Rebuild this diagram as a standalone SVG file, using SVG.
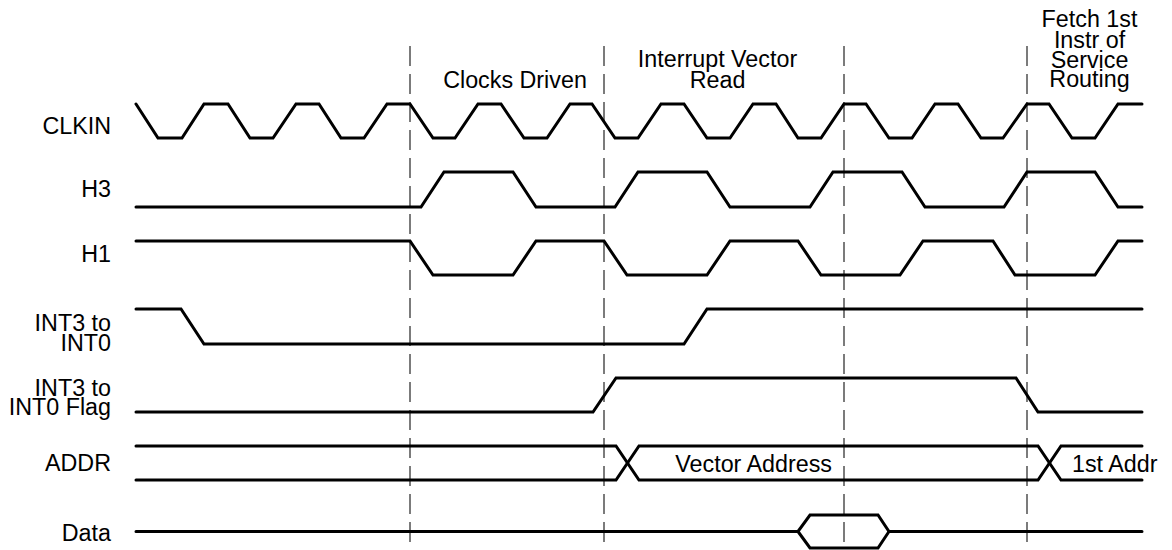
<svg xmlns="http://www.w3.org/2000/svg" width="1172" height="550" viewBox="0 0 1172 550">
<style>
.t{font-family:"Liberation Sans",Arial,Helvetica,sans-serif;font-size:23.3px;fill:#000}
.l{text-anchor:end}
.c{text-anchor:middle}
.w{fill:none;stroke:#000;stroke-width:3;stroke-linecap:round;stroke-linejoin:miter}
.d{fill:none;stroke:#444;stroke-width:1.4;stroke-dasharray:20 8}
</style>
<rect width="1172" height="550" fill="#fff"/>
<g id="markers">
<line class="d" x1="410" y1="46" x2="410" y2="549"/>
<line class="d" x1="604" y1="46" x2="604" y2="549"/>
<line class="d" x1="844" y1="46" x2="844" y2="549"/>
<line class="d" x1="1027" y1="46" x2="1027" y2="549"/>
</g>
<g id="phase-labels">
<text class="t c" x="515" y="88">Clocks Driven</text>
<text class="t c" x="717.5" y="67">Interrupt Vector</text>
<text class="t c" x="717.5" y="88">Read</text>
<text class="t c" x="1089.5" y="27">Fetch 1st</text>
<text class="t c" x="1089.5" y="47.5">Instr of</text>
<text class="t c" x="1089.5" y="67.5">Service</text>
<text class="t c" x="1089.5" y="87">Routing</text>
</g>
<g id="clkin">
<text class="t l" x="111" y="134">CLKIN</text>
<polyline class="w" points="136,104 158,138 182,138 204,104 228,104 250,138 273,138 296,104 319,104 341,138 364,138 387,104 410,104 433,138 455,138 478,104 501,104 524,138 547,138 570,104 592,104 615,138 638,138 661,104 684,104 707,138 730,138 753,104 776,104 798,138 821,138 844,104 866,104 889,138 912,138 935,104 958,104 981,138 1003,138 1027,104 1049,104 1072,138 1095,138 1118,104 1142,104"/>
</g>
<g id="h3">
<text class="t l" x="111" y="197">H3</text>
<polyline class="w" points="136,207 421,207 444,172 513,172 536,207 615,207 638,172 707,172 730,207 810,207 833,172 902,172 925,207 1004,207 1027,172 1095,172 1118,207 1142,207"/>
</g>
<g id="h1">
<text class="t l" x="111" y="262">H1</text>
<polyline class="w" points="136,241 410,241 433,275 513,275 536,241 604,241 627,275 707,275 730,241 798,241 821,275 900,275 923,241 993,241 1015,275 1095,275 1118,241 1142,241"/>
</g>
<g id="int">
<text class="t l" x="111" y="331">INT3 to</text>
<text class="t l" x="111" y="350.5">INT0</text>
<polyline class="w" points="136,309 181,309 204,344 684,344 707,309 1142,309"/>
</g>
<g id="int-flag">
<text class="t l" x="111" y="396">INT3 to</text>
<text class="t l" x="111" y="415">INT0 Flag</text>
<polyline class="w" points="136,412 593,412 616,378 1016,378 1038,412 1142,412"/>
</g>
<g id="addr">
<text class="t l" x="111" y="471">ADDR</text>
<polyline class="w" points="136,446 616,446 639,480 1038,480 1061,446 1142,446"/>
<polyline class="w" points="136,480 616,480 639,446 1038,446 1061,480 1142,480"/>
<text class="t l" x="832" y="472">Vector Address</text>
<text class="t" x="1072" y="472">1st Addr</text>
</g>
<g id="data">
<text class="t l" x="111" y="541">Data</text>
<polyline class="w" points="136,531.5 798,531.5 810,515 878,515 889,531.5 1142,531.5"/>
<polyline class="w" points="798,531.5 810,548 878,548 889,531.5"/>
</g>
</svg>
